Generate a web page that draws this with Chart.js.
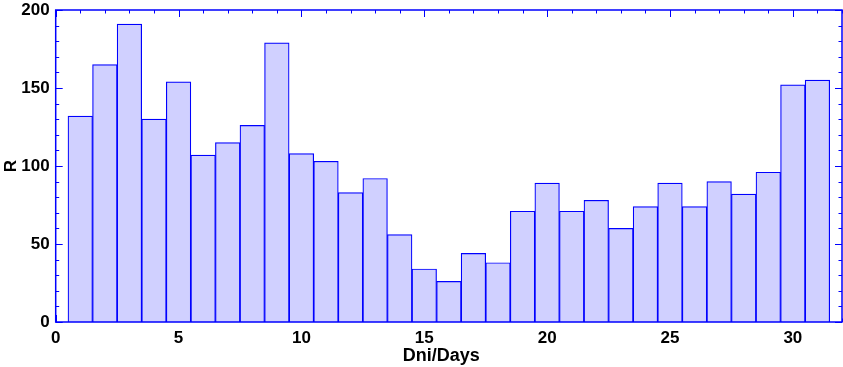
<!DOCTYPE html>
<html>
<head>
<meta charset="utf-8">
<script src="https://cdn.jsdelivr.net/npm/chart.js@4"></script>
<style>
    html, body { margin: 0; padding: 0; background: #fff; }
    #wrap { width: 843px; height: 367px; position: relative; }
</style>
</head>
<body>
<div id="wrap"><canvas id="histChart"></canvas></div>
<script>
// Data
const days = [1, 2, 3, 4, 5, 6, 7, 8, 9, 10, 11, 12, 13, 14, 15, 16, 17, 18, 19, 20, 21, 22, 23, 24, 25, 26, 27, 28, 29, 30, 31];
const rValues = [132, 165, 191, 130, 154, 107, 115, 126, 179, 108, 103, 83, 92, 56, 34, 26, 44, 38, 71, 89, 71, 78, 60, 74, 89, 74, 90, 82, 96, 152, 155];
const xTicks = [0, 5, 10, 15, 20, 25, 30];
const yTicks = [0, 50, 100, 150, 200];

const BLUE = '#0000ff';

// Inward tick marks on all four sides, drawn under the bars (like the original)
const tickMarks = {
    id: 'tickMarks',
    beforeDatasetsDraw(chart) {
        const { ctx, chartArea: a, scales: { x, y } } = chart;
        ctx.save();
        ctx.strokeStyle = BLUE;
        ctx.lineWidth = 1;
        ctx.beginPath();
        for (let v = 0; v <= 32; v++) {
            const px = Math.round(x.getPixelForValue(v)) + 0.5;
            const len = v % 5 === 0 ? 7 : 3.5;
            ctx.moveTo(px, a.top); ctx.lineTo(px, a.top + len);
            ctx.moveTo(px, a.bottom); ctx.lineTo(px, a.bottom - len);
        }
        for (let v = 0; v <= 200; v += 10) {
            const py = Math.round(y.getPixelForValue(v)) + 0.5;
            const len = v % 50 === 0 ? 7 : 3.5;
            ctx.moveTo(a.left, py); ctx.lineTo(a.left + len, py);
            ctx.moveTo(a.right, py); ctx.lineTo(a.right - len, py);
        }
        ctx.stroke();
        ctx.restore();
    },
    afterDatasetsDraw(chart) {
        const { ctx, chartArea: a } = chart;
        ctx.save();
        ctx.strokeStyle = BLUE;
        ctx.lineWidth = 1.5;
        ctx.strokeRect(a.left, a.top, a.right - a.left, a.bottom - a.top);
        ctx.restore();
    }
};

const ctx = document.getElementById('histChart').getContext('2d');
new Chart(ctx, {
    type: 'bar',
    data: {
        datasets: [{
            label: 'R',
            data: days.map((d, i) => ({ x: d, y: rValues[i] })),
            backgroundColor: '#d0d0ff',
            borderColor: BLUE,
            borderWidth: 1.2,
            barPercentage: 1,
            categoryPercentage: 1
        }]
    },
    options: {
        responsive: true,
        maintainAspectRatio: false,
        animation: false,
        layout: { padding: { top: 10, right: 1, left: 0, bottom: 0 } },
        plugins: {
            legend: { display: false },
            tooltip: { enabled: false }
        },
        scales: {
            x: {
                type: 'linear',
                min: 0,
                max: 32,
                offset: false,
                grid: { display: false, drawTicks: false },
                border: { display: false },
                afterBuildTicks: (scale) => { scale.ticks = xTicks.map(v => ({ value: v })); },
                afterFit: (scale) => {
                    scale.height = 45;
                    scale.paddingLeft = 0;
                    scale.paddingRight = 0;
                },
                ticks: {
                    color: '#000',
                    padding: 6,
                    maxRotation: 0,
                    font: { family: 'Liberation Sans', size: 17, weight: 'bold' }
                },
                title: {
                    display: true,
                    // trailing spaces nudge the label a bit left, as in the original
                    text: 'Dni/Days\u00a0\u00a0\u00a0',
                    color: '#000',
                    padding: { top: 0, bottom: 0 },
                    font: { family: 'Liberation Sans', size: 18, weight: 'bold' }
                }
            },
            y: {
                min: 0,
                max: 200,
                grid: { display: false, drawTicks: false },
                border: { display: false },
                afterBuildTicks: (scale) => { scale.ticks = yTicks.map(v => ({ value: v })); },
                afterFit: (scale) => {
                    scale.width = 55.7;
                    scale.paddingTop = 0;
                    scale.paddingBottom = 0;
                },
                ticks: {
                    color: '#000',
                    padding: 6,
                    font: { family: 'Liberation Sans', size: 17, weight: 'bold' }
                },
                title: {
                    display: true,
                    text: 'R',
                    color: '#000',
                    padding: { top: 1, bottom: 0 },
                    font: { family: 'Liberation Sans', size: 17, weight: 'bold' }
                }
            }
        }
    },
    plugins: [tickMarks]
});
</script>
</body>
</html>
